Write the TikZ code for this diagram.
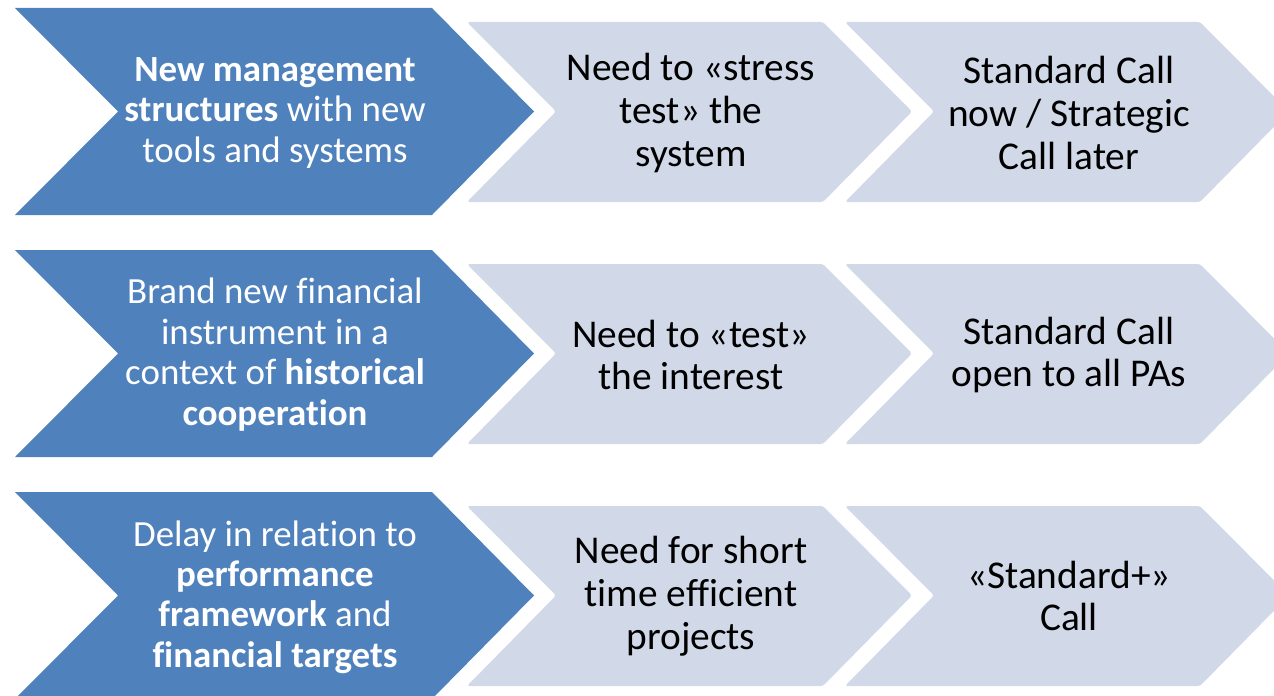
\documentclass[tikz,border=0pt]{standalone}
\usepackage{fontspec}
\setmainfont{Carlito}[Ligatures=NoCommon, RawFeature={-liga}]
\usetikzlibrary{positioning}

\definecolor{chevdark}{HTML}{4F81BD}
\definecolor{chevlight}{HTML}{D1D9E8}

\tikzset{
  darkchev/.style={fill=chevdark, draw=none},
  lightchev/.style={fill=chevlight, draw=none, rounded corners=1.5pt},
  darktext/.style={text=white, align=center, inner sep=0pt,
    font=\fontsize{21}{23}\selectfont},
  lighttext/.style={text=black, align=center, inner sep=0pt,
    font=\fontsize{22.4}{24.4}\selectfont},
}

\begin{document}
\begin{tikzpicture}[x=0.02cm, y=-0.02cm]
		\clip (0,0) rectangle (1274,696);

		% one row of three chevrons every 242px
		\foreach \dy in {0,242,484} {
			\fill [darkchev] (15,8+\dy) -- (432,8+\dy) -- (534,111.5+\dy)
				-- (432,215+\dy) -- (15,215+\dy) -- (118,111.5+\dy) -- cycle;
			\fill [lightchev] (467,22+\dy) -- (823,22+\dy) -- (912,111.5+\dy)
				-- (823,202+\dy) -- (467,202+\dy) -- (556,111.5+\dy) -- cycle;
			\fill [lightchev] (845,22+\dy) -- (1200,22+\dy) -- (1289,111.5+\dy)
				-- (1200,202+\dy) -- (845,202+\dy) -- (934,111.5+\dy) -- cycle;
		}

		\node (cause1) [darktext] at (275,113) {\textbf{New management}\\\textbf{structures} with new\\tools and systems};
		\node (need1) [lighttext] at (691,113) {Need to «stress\\test» the\\system};
		\node (call1) [lighttext] at (1069,113) {Standard Call\\now / Strategic\\Call later};

		\node (cause2) [darktext] at (275,354.5) {Brand new financial\\instrument in a\\context of \textbf{historical}\\\textbf{cooperation}};
		\node (need2) [lighttext] at (691,355) {Need to «test»\\the interest};
		\node (call2) [lighttext] at (1069,355) {Standard Call\\open to all PAs};

		\node (cause3) [darktext] at (275,597) {Delay in relation to\\\textbf{performance}\\\textbf{framework} and\\\textbf{financial targets}};
		\node (need3) [lighttext] at (691,596) {Need for short\\time efficient\\projects};
		\node (call3) [lighttext] at (1069,596) {«Standard+»\\Call};
	\end{tikzpicture}
\end{document}
